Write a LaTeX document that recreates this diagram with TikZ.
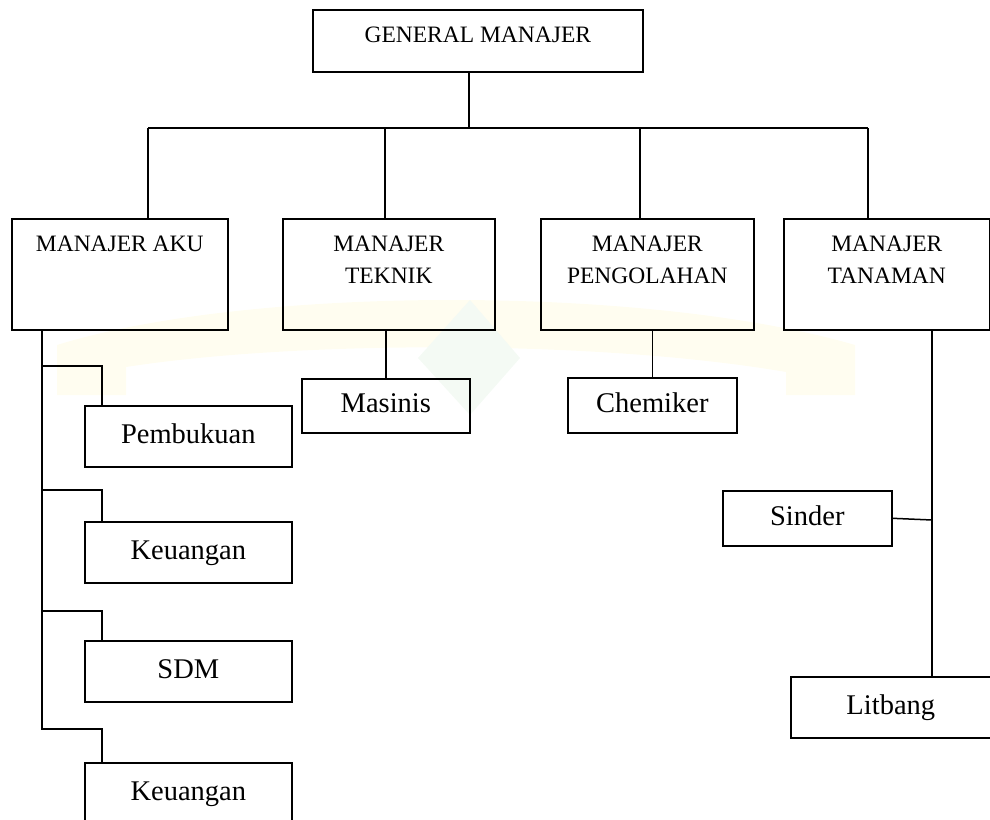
\documentclass[tikz,border=0pt]{standalone}
\usepackage{fontspec}
\setmainfont{Liberation Serif}
\usepackage{tikz}
\pgfdeclarelayer{bglayer}
\pgfdeclarelayer{nodelayer}
\pgfdeclarelayer{edgelayer}
\pgfsetlayers{bglayer,edgelayer,nodelayer,main}
\definecolor{wmyellow}{HTML}{FFFDF0}
\definecolor{wmgreen}{HTML}{F4FAF4}
\newcommand{\toptext}[1]{\parbox[c][111pt][t]{200pt}{\centering\vspace*{17pt}#1}}
\tikzset{box/.style={draw, rectangle, inner sep=0pt, line width=1.6pt, anchor=north west}}
\tikzset{gmbox/.style={box, minimum width=330pt, minimum height=62pt, text height=33pt, text depth=29pt, font=\fontsize{23.5}{32}\selectfont}}
\tikzset{mgr/.style={box, minimum height=111pt, font=\fontsize{23.5}{32}\selectfont}}
\tikzset{sub/.style={box, minimum height=61pt, text height=20pt, text depth=6pt, font=\fontsize{28.5}{34}\selectfont}}
\tikzset{link/.style={line width=1.5pt}}

\begin{document}
\begin{tikzpicture}[x=1pt, y=-1pt]
	\useasboundingbox (0,0) rectangle (990,819);
	\begin{pgfonlayer}{bglayer}
		% faint watermark
		\fill [wmyellow] (57,395) -- (57,345) .. controls (250,285) and (650,285) .. (855,345) -- (855,395) -- (786,395) -- (786,372) .. controls (600,340) and (300,340) .. (126,367) -- (126,395) -- cycle;
		\fill [wmgreen] (470,300) -- (520,358) -- (470,415) -- (418,358) -- cycle;
	\end{pgfonlayer}
	\begin{pgfonlayer}{nodelayer}
		\node [style=gmbox] (gm) at (312, 9) {GENERAL MANAJER};
		\node [style=mgr, minimum width=216pt] (aku) at (11, 218) {\toptext{MANAJER AKU}};
		\node [style=mgr, minimum width=212pt] (teknik) at (282, 218) {\toptext{MANAJER\\TEKNIK}};
		\node [style=mgr, minimum width=213pt] (pengolahan) at (540, 218) {\toptext{MANAJER\\PENGOLAHAN}};
		\node [style=mgr, minimum width=206pt] (tanaman) at (783, 218) {\toptext{MANAJER\\TANAMAN}};
		\node [style=sub, minimum width=207pt] (pembukuan) at (84, 405) {Pembukuan};
		\node [style=sub, minimum width=207pt] (keu1) at (84, 521) {Keuangan};
		\node [style=sub, minimum width=207pt] (sdm) at (84, 640) {SDM};
		\node [style=sub, minimum width=207pt] (keu2) at (84, 762) {Keuangan};
		\node [style=sub, minimum width=168pt, minimum height=54pt] (masinis) at (301, 378) {Masinis};
		\node [style=sub, minimum width=169pt, minimum height=55pt] (chemiker) at (567, 377) {Chemiker};
		\node [style=sub, minimum width=169pt, minimum height=55pt] (sinder) at (722, 490) {Sinder};
		\node [style=sub, minimum width=284pt] (litbang) at (790, 676) {\hspace*{-84pt}Litbang};
	\end{pgfonlayer}
	\begin{pgfonlayer}{edgelayer}
		\coordinate (gmj) at (469, 128);
		\coordinate (barl) at (148, 128);
		\coordinate (barr) at (868, 128);
		\coordinate (tj) at (385, 128);
		\coordinate (pj) at (640, 128);
		\coordinate (tv) at (932, 520);
		\coordinate (a1) at (42, 366);
		\coordinate (a2) at (42, 490);
		\coordinate (a3) at (42, 611);
		\coordinate (a4) at (42, 729);
		\draw [style=link] (gmj |- gm.south) to (gmj);
		\draw [style=link] (barl) to (barr);
		\draw [style=link] (barl) to (barl |- aku.north);
		\draw [style=link] (tj) to (tj |- teknik.north);
		\draw [style=link] (pj) to (pj |- pengolahan.north);
		\draw [style=link] (barr) to (barr |- tanaman.north);
		\draw [style=link] (masinis.north) to (masinis.north |- teknik.south);
		\draw [style=link] (chemiker.north) to (chemiker.north |- pengolahan.south);
		\draw [style=link] (tv |- tanaman.south) to (tv |- litbang.north);
		\draw [style=link] (sinder.east) to (tv);
		\draw [style=link] (a4 |- aku.south) -- (a4) -| ([xshift=18pt]keu2.north west);
		\draw [style=link] (a1) -| ([xshift=18pt]pembukuan.north west);
		\draw [style=link] (a2) -| ([xshift=18pt]keu1.north west);
		\draw [style=link] (a3) -| ([xshift=18pt]sdm.north west);
	\end{pgfonlayer}
\end{tikzpicture}
\end{document}
